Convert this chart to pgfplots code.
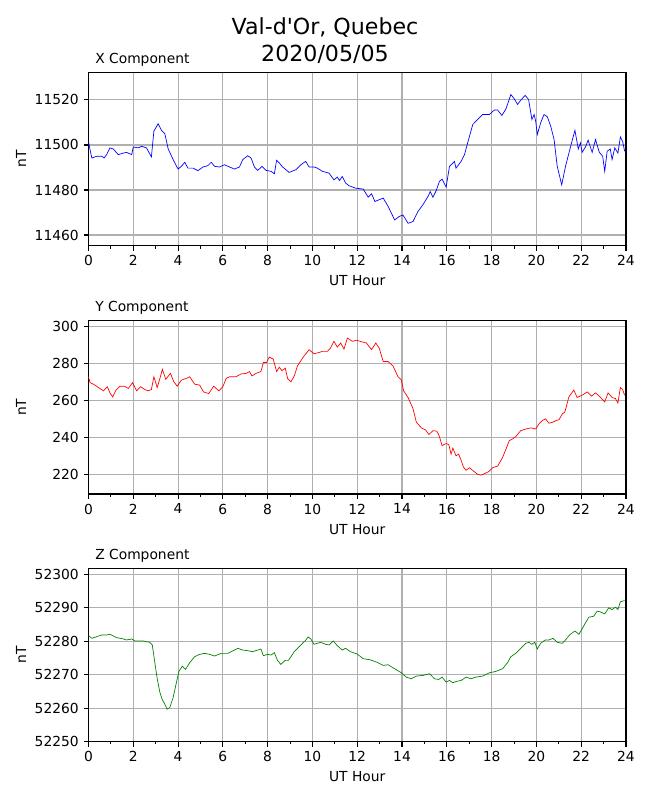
\documentclass[border=0pt]{standalone}
\usepackage{pgfplots}
\pgfplotsset{compat=1.18}
\usepackage{fontspec}
\setmainfont{DejaVu Sans}
\newfontfamily\plainfont{DejaVu Sans}
\definecolor{gridgray}{RGB}{176,176,176}
\definecolor{mplgreen}{RGB}{0,128,0}
\pgfplotsset{
  panel/.style={
    scale only axis,
    width=387bp, height=125bp,
    xmin=0, xmax=24,
    xtick={0,2,...,24},
    minor x tick num=1,
    tick align=outside,
    xtick pos=bottom, ytick pos=left,
    major tick length=3.5bp, minor tick length=2bp,
    tick style={black, line width=0.8bp},
    minor tick style={black, line width=0.6bp},
    grid=major,
    major grid style={gridgray, line width=0.8bp},
    axis line style={line width=0.8bp},
    ticklabel style={font=\fontsize{10}{12}\selectfont},
    scaled y ticks=false,
    /pgf/number format/fixed,
    /pgf/number format/assume math mode=true,
    /pgf/number format/1000 sep={},
    xlabel={UT Hour}, ylabel={nT},
    label style={font=\fontsize{10}{12}\selectfont},
    xlabel style={at={(axis description cs:0.5,0)}, anchor=base, yshift=-28.8bp},
    ylabel style={at={(axis description cs:-0.1253,0.5)}, anchor=center},
    every axis title shift=0pt,
    title style={at={(axis description cs:0,1)}, anchor=base west, inner sep=0pt, xshift=4.7bp, yshift=6.3bp, font=\fontsize{10}{12}\selectfont},
    every axis plot/.append style={line width=0.5pt},
  }
}
\begin{document}
\begin{tikzpicture}
\useasboundingbox (0,0) rectangle (468bp,576bp);
\node[anchor=base, font=\fontsize{16}{19}\selectfont] at (234bp,551.5bp) {\plainfont Val-d'Or, Quebec};
\node[anchor=base, font=\fontsize{16}{19}\selectfont] at (234bp,532bp) {2020/05/05};

\begin{axis}[panel, at={(63.7bp,399bp)}, anchor=south west,
  ymin=11455.2, ymax=11532.3, ytick={11460,11480,11500,11520},
  title={X Component}]
\addplot[blue] coordinates {
(0,11501.6)(0.07,11497.9)(0.15,11494.2)(0.37,11495)(0.59,11495)(0.7,11494.2)(0.81,11495.7)(0.96,11498.7)(1.11,11498.2)(1.33,11495.7)(1.56,11496.4)(1.7,11496.7)(1.93,11495.7)(2.0,11499.1)(2.22,11498.7)(2.37,11499.4)(2.59,11498.7)(2.81,11494.7)(2.92,11506.1)(3.11,11509.4)(3.26,11506.5)(3.41,11505)(3.56,11498.2)(3.78,11493.5)(4.0,11489.3)(4.15,11490.5)(4.3,11492.3)(4.44,11489.7)(4.67,11489.7)(4.89,11488.6)(5.11,11490.2)(5.33,11490.8)(5.48,11492.3)(5.63,11490.5)(5.85,11490.2)(6.07,11491.2)(6.3,11490.2)(6.52,11489.3)(6.74,11490.2)(6.89,11493.5)(7.11,11495.2)(7.26,11494.2)(7.41,11490.2)(7.56,11488.7)(7.75,11490.5)(7.93,11488.7)(8.15,11488.3)(8.3,11487.2)(8.4,11493.2)(8.52,11492)(8.67,11490.2)(8.96,11487.8)(9.26,11489)(9.48,11491.2)(9.7,11492.7)(9.85,11490.2)(10.07,11490.2)(10.22,11489.7)(10.44,11488.3)(10.74,11487.5)(10.96,11484.5)(11.11,11485.7)(11.21,11484.2)(11.33,11486)(11.48,11483.1)(11.63,11481.9)(11.93,11480.8)
(12.27,11480.4)(12.49,11476.8)(12.64,11478.3)(12.79,11474.9)(13.16,11476.4)(13.38,11472.7)(13.67,11466.7)(13.87,11468.2)(14.04,11468.9)(14.27,11465.2)(14.49,11466)(14.71,11470.4)(14.93,11473.4)(15.16,11477.1)(15.26,11479.3)(15.38,11476.8)(15.53,11479.8)(15.67,11483.8)(15.79,11484.8)(15.97,11481.3)(16.12,11490.5)(16.34,11492.7)(16.41,11489.7)(16.64,11492.7)(16.79,11495.7)(16.93,11500.9)(17.16,11509.1)(17.38,11511.3)(17.6,11513.5)(17.9,11513.5)(18.12,11515.5)(18.27,11515.5)(18.46,11513.1)(18.64,11516)(18.86,11522.4)(19.01,11520.5)(19.16,11518)(19.3,11519.9)(19.5,11522)(19.65,11520.2)(19.8,11511.3)(19.9,11513.5)(19.97,11510.5)(20.04,11504.6)(20.19,11509.8)(20.34,11513.5)(20.49,11512.5)(20.64,11508.3)(20.79,11502.4)(20.93,11490.5)(21.13,11482.3)(21.3,11490.5)(21.53,11499.4)(21.72,11506.5)(21.87,11498.2)(21.97,11500.9)(22.04,11496.7)(22.19,11499.1)(22.31,11502.1)(22.49,11496.7)(22.64,11502.4)(22.81,11496.7)(22.96,11495)(23.05,11488.3)(23.16,11497.2)(23.3,11498.2)(23.38,11493.5)(23.5,11498.7)(23.64,11496.4)(23.75,11503.6)(23.85,11501.6)(23.94,11497.2)
};
\end{axis}

\begin{axis}[panel, at={(63.7bp,220.3bp)}, anchor=south west,
  ymin=209.4, ymax=303.1, ytick={220,240,...,300},
  title={Y Component}]
\addplot[red] coordinates {
(0,272.7)(0.07,269.5)(0.22,268.7)(0.44,266.9)(0.67,265.1)(0.84,267.3)(0.96,264)(1.08,261.8)(1.23,265.5)(1.41,267.6)(1.6,267.6)(1.78,266.4)(1.97,269.5)(2.15,265.1)(2.33,267.3)(2.52,265.8)(2.67,265.1)(2.81,265.8)(2.92,272.7)(3.07,266.9)(3.19,271.8)(3.3,276.7)(3.45,271.3)(3.66,274.5)(3.81,270)(3.96,267.6)(4.15,270.9)(4.37,271.8)(4.52,272.7)(4.74,268.7)(4.96,268.2)(5.14,264.5)(5.37,263.6)(5.59,267.6)(5.82,265.1)(6.0,267.3)(6.15,271.8)(6.3,272.7)(6.59,272.7)(6.81,274.2)(7.04,274.5)(7.19,275.5)(7.3,273.1)(7.48,274.5)(7.7,275.5)(7.81,280.4)(7.96,280.4)(8.07,283.3)(8.25,282.2)(8.4,275.5)(8.52,277.8)(8.64,276)(8.79,277.3)(8.89,271.8)(9.04,270)(9.19,273.1)(9.33,278.5)(9.59,283.3)(9.85,287.3)(10.07,285.1)(10.3,285.8)(10.44,286.4)(10.67,286.4)(10.81,288.2)(10.96,291.8)(11.11,288.7)(11.26,290.9)(11.41,287.6)(11.56,293.6)(11.78,291.8)(11.97,292.4)
(12.19,291.6)(12.41,290.9)(12.64,287.3)(12.83,290.9)(12.98,288.2)(13.16,280.9)(13.38,280.9)(13.6,278.5)(13.82,272.7)(13.97,270.9)(14.07,265.1)(14.27,261.5)(14.49,255.5)(14.64,248.2)(14.86,245.1)(15.05,244)(15.2,241.5)(15.38,243.6)(15.56,243.3)(15.67,240.4)(15.79,235.5)(15.97,236.7)(16.09,236)(16.19,230.9)(16.27,234.2)(16.41,230)(16.53,230.9)(16.64,227.6)(16.74,224)(16.86,222.2)(17.01,223.6)(17.19,221.8)(17.38,220)(17.53,219.6)(17.68,220.4)(17.87,221.5)(18.05,223.6)(18.27,224.5)(18.49,229.1)(18.64,233.6)(18.79,238.2)(18.93,239.1)(19.08,240.4)(19.3,243.6)(19.53,244.5)(19.75,245.1)(19.97,244.5)(20.12,247.3)(20.27,249.1)(20.41,250)(20.56,247.6)(20.74,248.2)(20.89,249.1)(21.01,249.5)(21.16,252.7)(21.27,253.6)(21.45,261.8)(21.67,265.5)(21.82,261.5)(22.04,262.7)(22.27,264.5)(22.46,262.2)(22.64,264)(22.81,262.2)(23.05,259.1)(23.2,264)(23.38,261.5)(23.53,260.9)(23.64,258.5)(23.75,266.9)(23.85,265.8)(23.94,262.7)
};
\end{axis}

\begin{axis}[panel, at={(63.7bp,42bp)}, anchor=south west,
  ymin=52250, ymax=52301.9, ytick={52250,52260,...,52300},
  title={Z Component}]
\addplot[mplgreen] coordinates {
(0,52281.7)(0.15,52280.9)(0.37,52281.4)(0.59,52281.9)(0.81,52281.9)(0.96,52282.1)(1.26,52281.1)(1.56,52280.7)(1.7,52280.4)(1.93,52280.7)(2.07,52280.1)(2.44,52280.1)(2.74,52279.7)(2.85,52278.9)(2.96,52273.8)(3.07,52268.8)(3.19,52264.7)(3.3,52262.5)(3.41,52261.2)(3.51,52259.7)(3.63,52260.2)(3.78,52263.2)(3.93,52267.8)(4.04,52271)(4.19,52272.6)(4.33,52271.6)(4.52,52273.6)(4.74,52275.4)(4.96,52276.1)(5.19,52276.4)(5.41,52276.1)(5.63,52275.6)(5.93,52276.4)(6.22,52276.4)(6.44,52277.1)(6.67,52277.9)(6.89,52277.4)(7.11,52277.2)(7.33,52276.9)(7.56,52277.4)(7.7,52277.7)(7.81,52275.7)(8.0,52276.1)(8.15,52275.9)(8.3,52276.6)(8.44,52274.3)(8.59,52273.1)(8.78,52274.3)(8.93,52274.3)(9.19,52276.9)(9.48,52278.9)(9.67,52280.1)(9.81,52281.3)(9.93,52280.7)(10.07,52279.1)(10.22,52279.4)(10.37,52279.7)(10.59,52279.1)(10.74,52278.9)(10.93,52280.1)(11.11,52278.7)(11.33,52277.4)(11.48,52277.9)(11.7,52276.9)(12.0,52276.2)
(12.27,52274.8)(12.56,52274.5)(12.86,52273.8)(13.16,52272.8)(13.38,52273)(13.67,52271.8)(13.97,52270.6)(14.19,52269.3)(14.41,52268.8)(14.64,52269.6)(14.93,52269.8)(15.23,52270.3)(15.45,52268.8)(15.64,52268.6)(15.79,52269.3)(15.97,52267.8)(16.12,52268.3)(16.27,52267.6)(16.41,52268)(16.64,52268.3)(16.86,52269.3)(17.08,52268.8)(17.3,52269.3)(17.6,52269.6)(17.9,52270.6)(18.19,52271)(18.49,52271.8)(18.71,52273.6)(18.86,52275.4)(19.08,52276.4)(19.3,52277.9)(19.53,52279.4)(19.67,52279.7)(19.79,52279.1)(19.93,52279.7)(20.04,52277.7)(20.19,52279.4)(20.39,52280.4)(20.56,52280.4)(20.74,52280.9)(20.93,52279.7)(21.16,52279.4)(21.3,52280.4)(21.48,52281.9)(21.72,52283.1)(21.9,52282.1)(22.04,52283.7)(22.19,52285.5)(22.34,52287.2)(22.56,52287.5)(22.71,52289)(22.86,52288.8)(23.05,52288.2)(23.23,52290)(23.38,52289.5)(23.53,52290.2)(23.64,52289.5)(23.75,52291.8)(23.94,52292.2)
};
\end{axis}
\end{tikzpicture}
\end{document}
